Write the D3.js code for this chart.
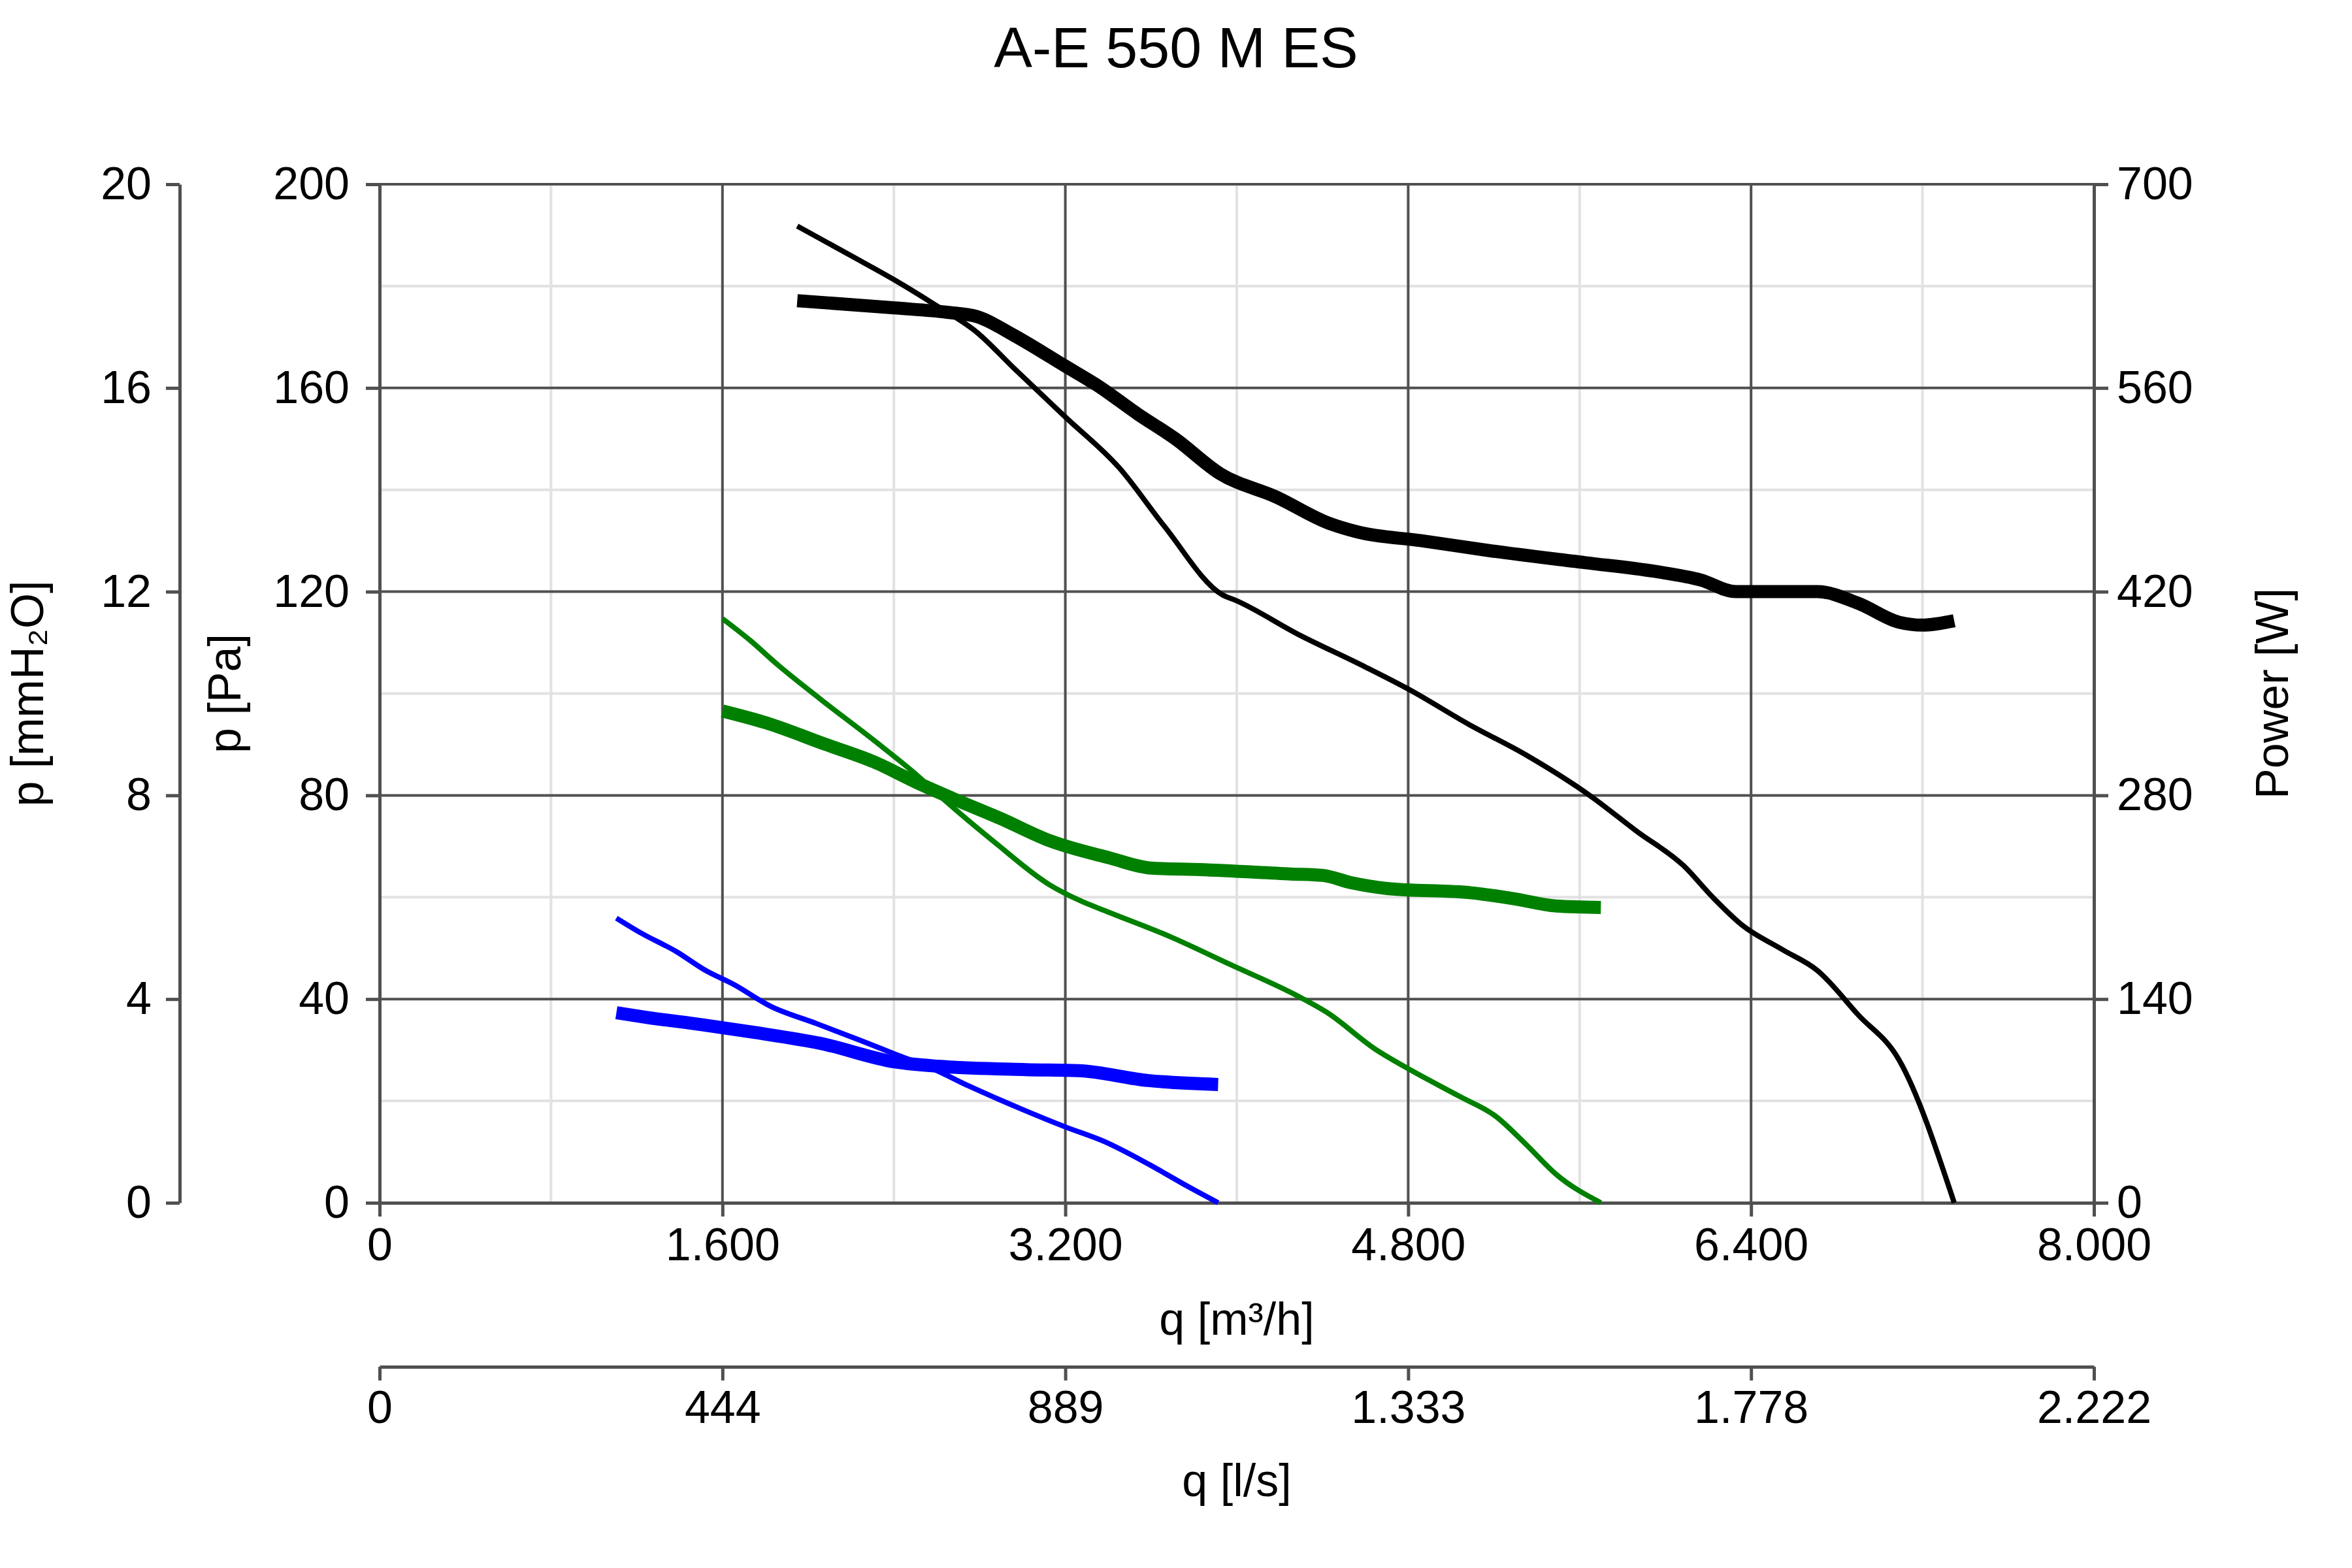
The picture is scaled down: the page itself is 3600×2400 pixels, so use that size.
<!DOCTYPE html>
<html>
<head>
<meta charset="utf-8">
<title>A-E 550 M ES</title>
<script src="https://cdn.jsdelivr.net/npm/d3@7"></script>
<style>
body { margin: 0; background: #fff; }
text { font-family: "Liberation Sans", Arial, sans-serif; fill: #000; }
.grid-major { stroke: #505050; stroke-width: 4px; }
.grid-minor { stroke: #e2e2e2; stroke-width: 4px; }
.axis path, .axis line { stroke: #505050; stroke-width: 5px; }
.curve { fill: none; stroke-linejoin: round; stroke-linecap: butt; }
</style>
</head>
<body>
<script>

var chartTitle = "A-E 550 M ES";

// tick values and the labels printed under / beside them
var flowTicks = [0, 1600, 3200, 4800, 6400, 8000];
var flowTickLabels = ["0", "1.600", "3.200", "4.800", "6.400", "8.000"];
var litreTickLabels = ["0", "444", "889", "1.333", "1.778", "2.222"];
var paTicks = [0, 40, 80, 120, 160, 200];
var mmTicks = [0, 4, 8, 12, 16, 20];
var powerTicks = [0, 140, 280, 420, 560, 700];

// curves: [q m3/h, p Pa] and [q m3/h, power W]
var pressureHigh = [[1949,191.8],[2194,186.1],[2403,181.2],[2578,176.7],[2788,170.9],[2962,163.8],
  [3200,154.3],[3452,144.3],[3661,132.9],[3932,119.4],[4000,118.2],[4292,111.5],[4591,105.4],
  [4808,100.7],[5080,94.0],[5351,87.9],[5650,79.9],[5868,72.9],[6085,66.2],[6221,60.0],
  [6356,54.6],[6547,49.7],[6710,45.6],[6900,36.9],[7090,28.1],[7348,0]];
var powerHigh = [[1949,620],[2403,615],[2648,612],[2788,609],[2962,596],[3200,575],[3347,562],
  [3539,542],[3714,525],[3923,501],[4185,485],[4430,467],[4564,461],[4862,455],[5188,448],
  [5623,440],[5949,434],[6166,428],[6329,420],[6710,420],[6900,412],[7090,399],[7199,397],[7348,400]];

var pressureMid = [[1600,114.7],[1730,110.4],[1856,105.7],[2054,99.0],[2307,90.8],[2504,84.1],
  [2617,79.8],[2870,70.8],[3124,62.5],[3265,59.4],[3406,57.0],[3687,52.3],[3969,46.8],
  [4307,40.1],[4420,37.4],[4645,30.2],[4814,26.0],[5039,20.9],[5208,17.0],[5349,11.5],
  [5490,5.6],[5699,0]];
var powerMid = [[1600,338],[1800,330],[2082,315],[2307,303],[2504,289],[2673,278],[2899,264],
  [3124,249],[3406,237],[3603,230],[3828,229],[4251,226],[4401,225],[4533,220],[4702,216],
  [5096,213],[5293,209],[5490,204],[5699,203]];

var pressureLow = [[1105,55.9],[1223,52.9],[1386,49.3],[1518,45.7],[1651,42.9],[1824,38.6],
  [2038,35.2],[2242,31.9],[2405,29.2],[2588,26.2],[2751,22.9],[2996,18.4],[3200,14.9],
  [3383,12.0],[3575,7.9],[3772,3.2],[3913,0]];
var powerLow = [[1105,130.6],[1243,127.5],[1508,122.3],[1753,117.0],[2059,109.5],[2405,96.8],
  [2609,93.8],[3016,91.5],[3261,90.8],[3587,84.0],[3913,81.3]];

var width = 3600,
    height = 2400;
var plotLeft = 581, plotRight = 3205, plotTop = 282, plotBottom = 1841;
var litreAxisY = 2092;
var fontSize = 70;

var svg = d3.select("body").append("svg")
    .attr("width", width)
    .attr("height", height);

var x = d3.scaleLinear().domain([0, 8000]).range([plotLeft, plotRight]);
var xLitre = d3.scaleLinear().domain([0, 8000 / 3.6]).range([plotLeft, plotRight]);
var yPa = d3.scaleLinear().domain([0, 200]).range([plotBottom, plotTop]);
var yMm = d3.scaleLinear().domain([0, 20]).range([plotBottom, plotTop]);
var yPower = d3.scaleLinear().domain([0, 700]).range([plotBottom, plotTop]);

// grid: light lines half way between the labelled ones
var grid = svg.append("g");
grid.selectAll(".vminor")
    .data(d3.range(800, 8000, 1600))
    .enter().append("line")
    .attr("class", "grid-minor")
    .attr("x1", function(d) { return x(d); })
    .attr("x2", function(d) { return x(d); })
    .attr("y1", plotTop).attr("y2", plotBottom);
grid.selectAll(".hminor")
    .data(d3.range(20, 200, 40))
    .enter().append("line")
    .attr("class", "grid-minor")
    .attr("y1", function(d) { return yPa(d); })
    .attr("y2", function(d) { return yPa(d); })
    .attr("x1", plotLeft).attr("x2", plotRight);
grid.selectAll(".vmajor")
    .data(flowTicks)
    .enter().append("line")
    .attr("class", "grid-major")
    .attr("x1", function(d) { return x(d); })
    .attr("x2", function(d) { return x(d); })
    .attr("y1", plotTop).attr("y2", plotBottom);
grid.selectAll(".hmajor")
    .data(paTicks)
    .enter().append("line")
    .attr("class", "grid-major")
    .attr("y1", function(d) { return yPa(d); })
    .attr("y2", function(d) { return yPa(d); })
    .attr("x1", plotLeft).attr("x2", plotRight);

function styleAxis(g) {
  g.attr("class", "axis")
    .attr("font-size", null)
    .attr("font-family", null);
  g.selectAll("text").style("font-size", fontSize + "px");
}

// left axes
svg.append("g")
    .attr("transform", "translate(" + plotLeft + ",0)")
    .call(d3.axisLeft(yPa).tickValues(paTicks).tickSize(21).tickSizeOuter(0).tickPadding(25))
    .call(styleAxis);

svg.append("g")
    .attr("transform", "translate(275,0)")
    .call(d3.axisLeft(yMm).tickValues(mmTicks).tickSize(21).tickSizeOuter(0).tickPadding(22))
    .call(styleAxis);

// right axis
svg.append("g")
    .attr("transform", "translate(" + plotRight + ",0)")
    .call(d3.axisRight(yPower).tickValues(powerTicks).tickSize(22).tickSizeOuter(0).tickPadding(13))
    .call(styleAxis);

// bottom axes
svg.append("g")
    .attr("transform", "translate(0," + plotBottom + ")")
    .call(d3.axisBottom(x).tickValues(flowTicks).tickSize(21).tickSizeOuter(0).tickPadding(17)
      .tickFormat(function(d, i) { return flowTickLabels[i]; }))
    .call(styleAxis);

svg.append("g")
    .attr("transform", "translate(0," + litreAxisY + ")")
    .call(d3.axisBottom(xLitre).tickValues(flowTicks.map(function(q) { return q / 3.6; }))
      .tickSize(21).tickSizeOuter(0).tickPadding(15)
      .tickFormat(function(d, i) { return litreTickLabels[i]; }))
    .call(styleAxis);

// curves
var linePa = d3.line()
    .x(function(d) { return x(d[0]); })
    .y(function(d) { return yPa(d[1]); })
    .curve(d3.curveMonotoneX);
var lineW = d3.line()
    .x(function(d) { return x(d[0]); })
    .y(function(d) { return yPower(d[1]); })
    .curve(d3.curveMonotoneX);

var curves = [
  {data: powerHigh, line: lineW, color: "#000000", w: 20},
  {data: pressureHigh, line: linePa, color: "#000000", w: 8},
  {data: powerMid, line: lineW, color: "#008000", w: 20},
  {data: pressureMid, line: linePa, color: "#008000", w: 8},
  {data: powerLow, line: lineW, color: "#0000ff", w: 20},
  {data: pressureLow, line: linePa, color: "#0000ff", w: 8}
];

svg.append("g")
    .selectAll("path")
    .data(curves)
    .enter().append("path")
    .attr("class", "curve")
    .attr("d", function(d) { return d.line(d.data); })
    .style("stroke", function(d) { return d.color; })
    .style("stroke-width", function(d) { return d.w + "px"; });

// titles
svg.append("text")
    .attr("x", width / 2)
    .attr("y", 103)
    .attr("text-anchor", "middle")
    .style("font-size", "88px")
    .text(chartTitle);

svg.append("text")
    .attr("x", (plotLeft + plotRight) / 2)
    .attr("y", 2043)
    .attr("text-anchor", "middle")
    .style("font-size", fontSize + "px")
    .text("q [m³/h]");

svg.append("text")
    .attr("x", (plotLeft + plotRight) / 2)
    .attr("y", 2290)
    .attr("text-anchor", "middle")
    .style("font-size", fontSize + "px")
    .text("q [l/s]");

var midY = (plotTop + plotBottom) / 2;
[["p [mmH₂O]", 66], ["p [Pa]", 368], ["Power [W]", 3502]].forEach(function(t) {
  svg.append("text")
      .attr("transform", "translate(" + t[1] + "," + midY + ") rotate(-90)")
      .attr("text-anchor", "middle")
      .style("font-size", fontSize + "px")
      .text(t[0]);
});

</script>
</body>
</html>
